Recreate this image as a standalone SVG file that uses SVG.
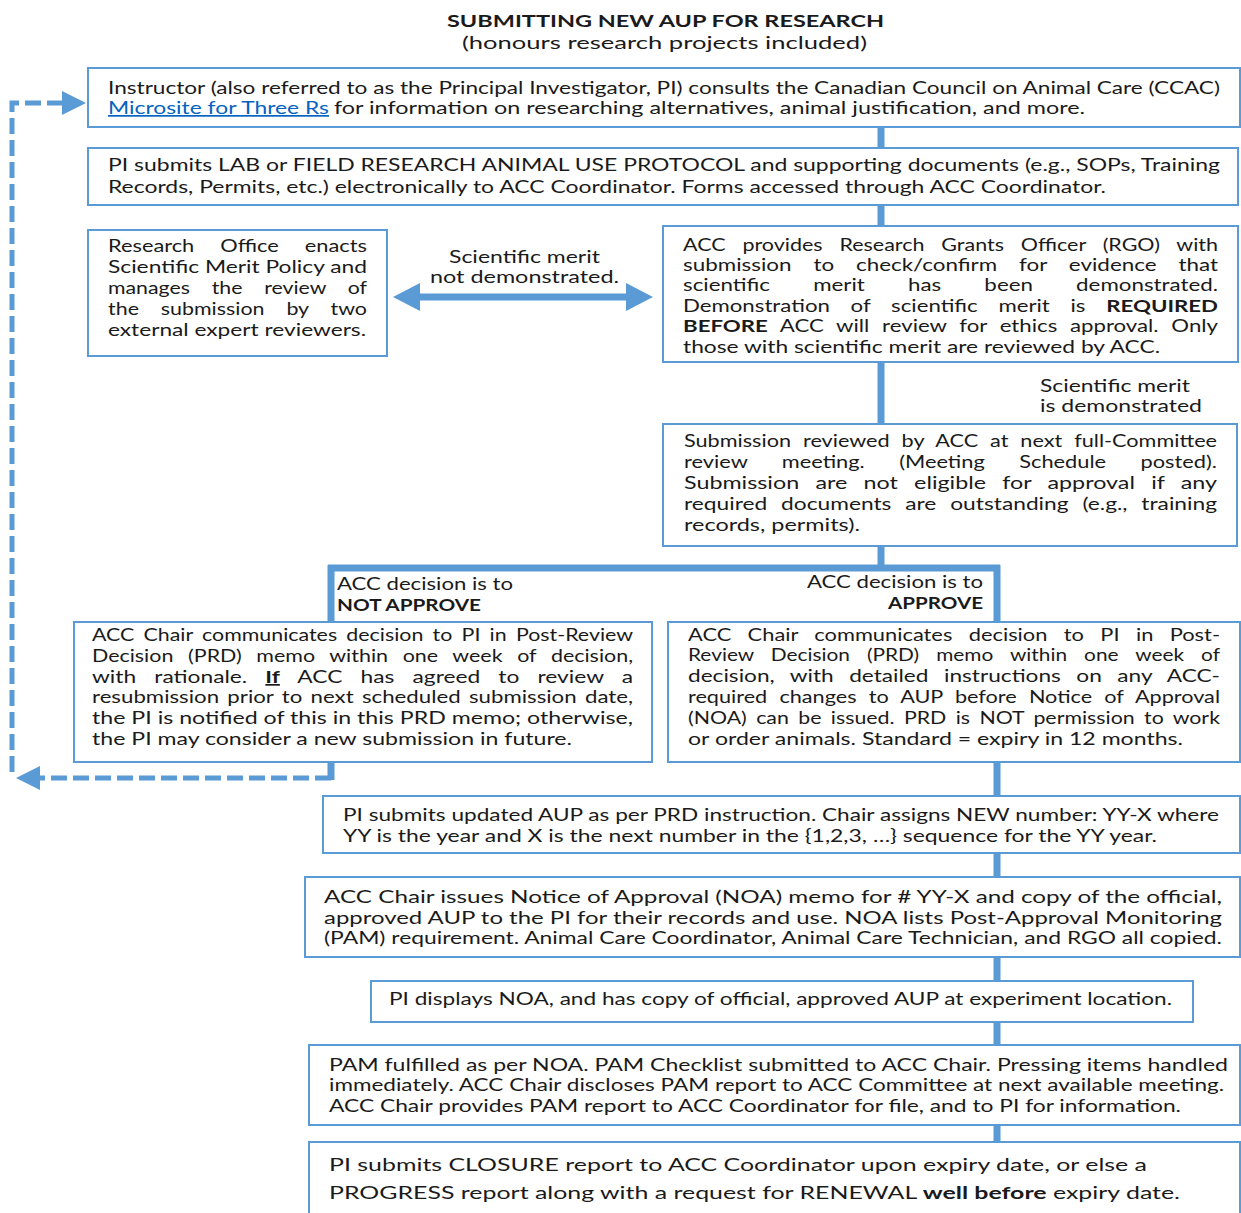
<svg xmlns="http://www.w3.org/2000/svg" width="1241" height="1213" viewBox="0 0 1241 1213">
<style>
.bg{fill:#ffffff}
.box{fill:#ffffff;stroke:#5b9bd5;stroke-width:2}
.t{font-family:Lato,"Open Sans","Liberation Sans",sans-serif;font-size:17px;fill:#1a1a1a}
.b{font-weight:bold}
.lnk{fill:#0563c1;text-decoration:underline}
.conn{stroke:#5b9bd5;stroke-width:7;fill:none}
.dash{stroke:#5b9bd5;stroke-width:5;fill:none;stroke-dasharray:16 6}
</style>
<defs>
<marker id="ah" viewBox="0 0 27 28" refX="2" refY="14" markerWidth="27" markerHeight="28" markerUnits="userSpaceOnUse" orient="auto-start-reverse"><path d="M0,0 L27,14 L0,28 z" fill="#5b9bd5"/></marker>
<marker id="ah2" viewBox="0 0 24 24" refX="2" refY="12" markerWidth="24" markerHeight="24" markerUnits="userSpaceOnUse" orient="auto"><path d="M0,0 L24,12 L0,24 z" fill="#5b9bd5"/></marker>
</defs>
<rect class="bg" x="0" y="0" width="1241" height="1213"/>

<g id="title">
<text class="t b" x="447" y="27" font-size="18" textLength="437" lengthAdjust="spacingAndGlyphs">SUBMITTING NEW AUP FOR RESEARCH</text>
<text class="t" x="462" y="49" font-size="18" textLength="405" lengthAdjust="spacingAndGlyphs">(honours research projects included)</text>
</g>

<g id="connectors">
<line class="conn" x1="881" y1="127" x2="881" y2="148"/>
<line class="conn" x1="881" y1="205" x2="881" y2="226"/>
<line class="conn" x1="881" y1="362" x2="881" y2="424"/>
<line class="conn" x1="881" y1="546" x2="881" y2="568"/>
<line class="conn" x1="328" y1="568" x2="1000" y2="568"/>
<line class="conn" x1="331" y1="565" x2="331" y2="780"/>
<line class="conn" x1="997" y1="565" x2="997" y2="1142"/>
<line class="conn" x1="418" y1="297" x2="628" y2="297" marker-start="url(#ah)" marker-end="url(#ah)"/>
<path class="dash" d="M331,778 H38" marker-end="url(#ah2)"/>
<path class="dash" d="M12,772 V103 H64" marker-end="url(#ah2)"/>
</g>

<g id="n1">
<rect class="box" x="88" y="68" width="1152" height="59"/>
<text class="t" x="108" y="94" textLength="1112" lengthAdjust="spacingAndGlyphs">Instructor (also referred to as the Principal Investigator, PI) consults the Canadian Council on Animal Care (CCAC)</text>
<text class="t lnk" x="108" y="114" textLength="221" lengthAdjust="spacingAndGlyphs">Microsite for Three Rs</text>
<text class="t" x="334" y="114" textLength="751" lengthAdjust="spacingAndGlyphs">for information on researching alternatives, animal justification, and more.</text>
</g>

<g id="n2">
<rect class="box" x="88" y="148" width="1150" height="57"/>
<text class="t" x="108" y="171" textLength="1112" lengthAdjust="spacingAndGlyphs">PI submits LAB or FIELD RESEARCH ANIMAL USE PROTOCOL and supporting documents (e.g., SOPs, Training</text>
<text class="t" x="108" y="193" textLength="998" lengthAdjust="spacingAndGlyphs">Records, Permits, etc.) electronically to ACC Coordinator. Forms accessed through ACC Coordinator.</text>
</g>

<g id="n3">
<rect class="box" x="88" y="230" width="299" height="126"/>
<text class="t" x="108" y="252" word-spacing="16" textLength="259" lengthAdjust="spacingAndGlyphs">Research Office enacts</text>
<text class="t" x="108" y="273" textLength="259" lengthAdjust="spacingAndGlyphs">Scientific Merit Policy and</text>
<text class="t" x="108" y="294" word-spacing="13" textLength="259" lengthAdjust="spacingAndGlyphs">manages the review of</text>
<text class="t" x="108" y="315" word-spacing="13" textLength="259" lengthAdjust="spacingAndGlyphs">the submission by two</text>
<text class="t" x="108" y="336" textLength="258" lengthAdjust="spacingAndGlyphs">external expert reviewers.</text>
</g>

<g id="lbl-notdemo">
<text class="t" x="449" y="263" textLength="151" lengthAdjust="spacingAndGlyphs">Scientific merit</text>
<text class="t" x="430" y="283" textLength="189" lengthAdjust="spacingAndGlyphs">not demonstrated.</text>
</g>

<g id="n4">
<rect class="box" x="663" y="226" width="575" height="136"/>
<text class="t" x="683" y="251" word-spacing="9" textLength="535" lengthAdjust="spacingAndGlyphs">ACC provides Research Grants Officer (RGO) with</text>
<text class="t" x="683" y="271" word-spacing="12.3" textLength="535" lengthAdjust="spacingAndGlyphs">submission to check/confirm for evidence that</text>
<text class="t" x="683" y="291" word-spacing="28.5" textLength="535" lengthAdjust="spacingAndGlyphs">scientific merit has been demonstrated.</text>
<text class="t" x="683" y="312" word-spacing="11.5" textLength="535" lengthAdjust="spacingAndGlyphs">Demonstration of scientific merit is <tspan class="b">REQUIRED</tspan></text>
<text class="t" x="683" y="332" word-spacing="5.4" textLength="535" lengthAdjust="spacingAndGlyphs"><tspan class="b">BEFORE</tspan> ACC will review for ethics approval. Only</text>
<text class="t" x="683" y="353" textLength="477" lengthAdjust="spacingAndGlyphs">those with scientific merit are reviewed by ACC.</text>
</g>

<g id="lbl-demo">
<text class="t" x="1040" y="392" textLength="150" lengthAdjust="spacingAndGlyphs">Scientific merit</text>
<text class="t" x="1040" y="412" textLength="162" lengthAdjust="spacingAndGlyphs">is demonstrated</text>
</g>

<g id="n5">
<rect class="box" x="663" y="424" width="574" height="122"/>
<text class="t" x="684" y="447" word-spacing="5" textLength="533" lengthAdjust="spacingAndGlyphs">Submission reviewed by ACC at next full-Committee</text>
<text class="t" x="684" y="468" word-spacing="22.5" textLength="533" lengthAdjust="spacingAndGlyphs">review meeting. (Meeting Schedule posted).</text>
<text class="t" x="684" y="489" word-spacing="7.5" textLength="533" lengthAdjust="spacingAndGlyphs">Submission are not eligible for approval if any</text>
<text class="t" x="684" y="510" word-spacing="6" textLength="533" lengthAdjust="spacingAndGlyphs">required documents are outstanding (e.g., training</text>
<text class="t" x="684" y="531" textLength="176" lengthAdjust="spacingAndGlyphs">records, permits).</text>
</g>

<g id="lbl-no">
<text class="t" x="337" y="590" textLength="176" lengthAdjust="spacingAndGlyphs">ACC decision is to</text>
<text class="t b" x="337" y="611" textLength="144" lengthAdjust="spacingAndGlyphs">NOT APPROVE</text>
</g>
<g id="lbl-yes">
<text class="t" x="807" y="588" textLength="176" lengthAdjust="spacingAndGlyphs">ACC decision is to</text>
<text class="t b" x="888" y="609" textLength="95" lengthAdjust="spacingAndGlyphs">APPROVE</text>
</g>

<g id="n6">
<rect class="box" x="74" y="622" width="578" height="140"/>
<text class="t" x="92" y="641" word-spacing="3" textLength="541" lengthAdjust="spacingAndGlyphs">ACC Chair communicates decision to PI in Post-Review</text>
<text class="t" x="92" y="662" word-spacing="7.3" textLength="541" lengthAdjust="spacingAndGlyphs">Decision (PRD) memo within one week of decision,</text>
<text class="t" x="92" y="683" word-spacing="9.2" textLength="541" lengthAdjust="spacingAndGlyphs">with rationale. <tspan class="b" text-decoration="underline">If</tspan> ACC has agreed to review a</text>
<text class="t" x="92" y="703" word-spacing="2" textLength="541" lengthAdjust="spacingAndGlyphs">resubmission prior to next scheduled submission date,</text>
<text class="t" x="92" y="724" textLength="541" lengthAdjust="spacingAndGlyphs">the PI is notified of this in this PRD memo; otherwise,</text>
<text class="t" x="92" y="745" textLength="480" lengthAdjust="spacingAndGlyphs">the PI may consider a new submission in future.</text>
</g>

<g id="n7">
<rect class="box" x="668" y="622" width="572" height="140"/>
<text class="t" x="688" y="641" word-spacing="8.4" textLength="532" lengthAdjust="spacingAndGlyphs">ACC Chair communicates decision to PI in Post-</text>
<text class="t" x="688" y="661" word-spacing="9.6" textLength="532" lengthAdjust="spacingAndGlyphs">Review Decision (PRD) memo within one week of</text>
<text class="t" x="688" y="682" word-spacing="7.3" textLength="532" lengthAdjust="spacingAndGlyphs">decision, with detailed instructions on any ACC-</text>
<text class="t" x="688" y="703" word-spacing="5.2" textLength="532" lengthAdjust="spacingAndGlyphs">required changes to AUP before Notice of Approval</text>
<text class="t" x="688" y="724" word-spacing="3.1" textLength="532" lengthAdjust="spacingAndGlyphs">(NOA) can be issued. PRD is NOT permission to work</text>
<text class="t" x="688" y="745" textLength="495" lengthAdjust="spacingAndGlyphs">or order animals. Standard = expiry in 12 months.</text>
</g>

<g id="n8">
<rect class="box" x="323" y="796" width="917" height="57"/>
<text class="t" x="343" y="821" textLength="876" lengthAdjust="spacingAndGlyphs">PI submits updated AUP as per PRD instruction. Chair assigns NEW number: YY-X where</text>
<text class="t" x="343" y="842" textLength="814" lengthAdjust="spacingAndGlyphs">YY is the year and X is the next number in the {1,2,3, …} sequence for the YY year.</text>
</g>

<g id="n9">
<rect class="box" x="305" y="877" width="935" height="80"/>
<text class="t" x="324" y="903" textLength="898" lengthAdjust="spacingAndGlyphs">ACC Chair issues Notice of Approval (NOA) memo for # YY-X and copy of the official,</text>
<text class="t" x="324" y="924" textLength="898" lengthAdjust="spacingAndGlyphs">approved AUP to the PI for their records and use. NOA lists Post-Approval Monitoring</text>
<text class="t" x="324" y="944" textLength="898" lengthAdjust="spacingAndGlyphs">(PAM) requirement. Animal Care Coordinator, Animal Care Technician, and RGO all copied.</text>
</g>

<g id="n10">
<rect class="box" x="371" y="981" width="822" height="41"/>
<text class="t" x="389" y="1005" textLength="783" lengthAdjust="spacingAndGlyphs">PI displays NOA, and has copy of official, approved AUP at experiment location.</text>
</g>

<g id="n11">
<rect class="box" x="309" y="1045" width="931" height="80"/>
<text class="t" x="329" y="1071" textLength="899" lengthAdjust="spacingAndGlyphs">PAM fulfilled as per NOA. PAM Checklist submitted to ACC Chair. Pressing items handled</text>
<text class="t" x="329" y="1091" textLength="895" lengthAdjust="spacingAndGlyphs">immediately. ACC Chair discloses PAM report to ACC Committee at next available meeting.</text>
<text class="t" x="329" y="1112" textLength="852" lengthAdjust="spacingAndGlyphs">ACC Chair provides PAM report to ACC Coordinator for file, and to PI for information.</text>
</g>

<g id="n12">
<rect class="box" x="309" y="1142" width="931" height="80"/>
<text class="t" x="329" y="1171" textLength="818" lengthAdjust="spacingAndGlyphs">PI submits CLOSURE report to ACC Coordinator upon expiry date, or else a</text>
<text class="t" x="329" y="1199" textLength="851" lengthAdjust="spacingAndGlyphs">PROGRESS report along with a request for RENEWAL <tspan class="b">well before</tspan> expiry date.</text>
</g>
</svg>
